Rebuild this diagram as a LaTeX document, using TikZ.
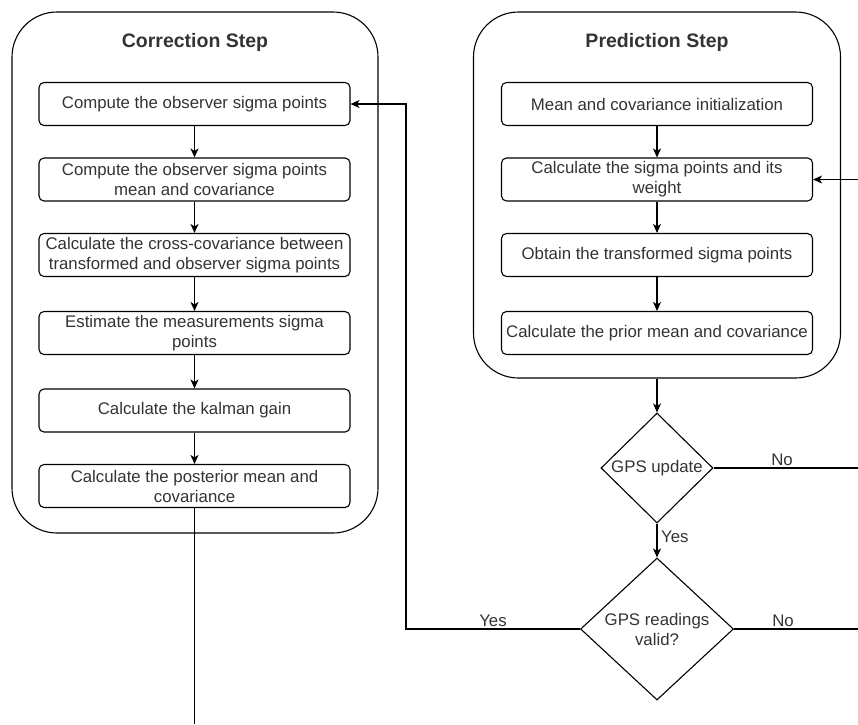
\documentclass[tikz,border=0pt]{standalone}
\usepackage{fontspec}
\setmainfont{Liberation Sans}
\usetikzlibrary{arrows.meta,shapes.geometric}
\definecolor{txt}{HTML}{333333}
\begin{document}
\begin{tikzpicture}[x=1pt,y=-1pt,
  every node/.style={text=txt},
  body/.style={font=\fontsize{16.8}{20}\selectfont},
  container/.style={draw, line width=1.1pt, rounded corners=45pt, inner sep=0pt},
  stepbox/.style={draw, line width=1.1pt, rounded corners=5pt, minimum width=311pt, minimum height=43pt, inner sep=0pt, align=center, body},
  title/.style={font=\fontsize{19.5}{22}\selectfont\bfseries},
  decision/.style={draw, diamond, inner sep=0pt, align=center, body, line width=1.1pt},
  conn/.style={line width=1.1pt},
  arr/.style={conn, -{Stealth[length=9pt,width=8pt,inset=2.5pt]}},
  lbl/.style={body, anchor=base, inner sep=0pt}
]
\useasboundingbox (0,0) rectangle (858,724);

% containers
\node[container, minimum width=366pt, minimum height=521pt] (CL) at (195,272.5) {};
\node[container, minimum width=367pt, minimum height=366pt] (CR) at (657,195) {};
\node[title] (tL) at (195,42) {Correction Step};
\node[title] (tR) at (657,42) {Prediction Step};

% correction step boxes
\node[stepbox] (c1) at (194.5,104) {Compute the observer sigma points};
\node[stepbox] (c2) at (194.5,179.5) {Compute the observer sigma points\\mean and covariance};
\node[stepbox] (c3) at (194.5,255) {Calculate the cross-covariance between\\transformed and observer sigma points};
\node[stepbox] (c4) at (194.5,333) {Estimate the measurements sigma\\points};
\node[stepbox] (c5) at (194.5,410.5) {Calculate the kalman gain};
\node[stepbox] (c6) at (194.5,486) {Calculate the posterior mean and\\covariance};

% prediction step boxes
\node[stepbox] (p1) at (657,104) {Mean and covariance initialization};
\node[stepbox] (p2) at (657,179.5) {Calculate the sigma points and its\\weight};
\node[stepbox] (p3) at (657,255) {Obtain the transformed sigma points};
\node[stepbox] (p4) at (657,333) {Calculate the prior mean and covariance};

% decisions
\node[decision, minimum width=112pt, minimum height=110pt] (d1) at (657,468) {GPS update};
\node[decision, minimum width=153pt, minimum height=142pt] (d2) at (657,629) {GPS readings\\valid?};

% free ends
\coordinate (endL) at (194.5,724);
\coordinate (inP) at (858,179.5);
\coordinate (noA) at (858,468);
\coordinate (noB) at (858,629);
\coordinate (fb) at (406,629);

% connectors
\draw[arr] (c1) -- (c2);
\draw[arr] (c2) -- (c3);
\draw[arr] (c3) -- (c4);
\draw[arr] (c4) -- (c5);
\draw[arr] (c5) -- (c6);
\draw[conn] (c6.south) -- (endL);

\draw[arr] (p1) -- (p2);
\draw[arr] (p2) -- (p3);
\draw[arr] (p3) -- (p4);
\draw[arr] (CR.south) -- (d1.north);
\draw[arr] (d1.south) -- (d2.north);
\draw[conn] (d1.east) -- (noA);
\draw[conn] (d2.east) -- (noB);
\draw[arr] (inP) -- (p2.east);
\draw[arr] (d2.west) -- (fb) |- (c1.east);

% labels
\node[lbl] (lNoA) at (782,465) {No};
\node[lbl] (lNoB) at (783,626) {No};
\node[lbl] (lYesB) at (493,626) {Yes};
\node[body, anchor=west, inner sep=0pt] (lYesA) at (661,537) {Yes};
\end{tikzpicture}
\end{document}
